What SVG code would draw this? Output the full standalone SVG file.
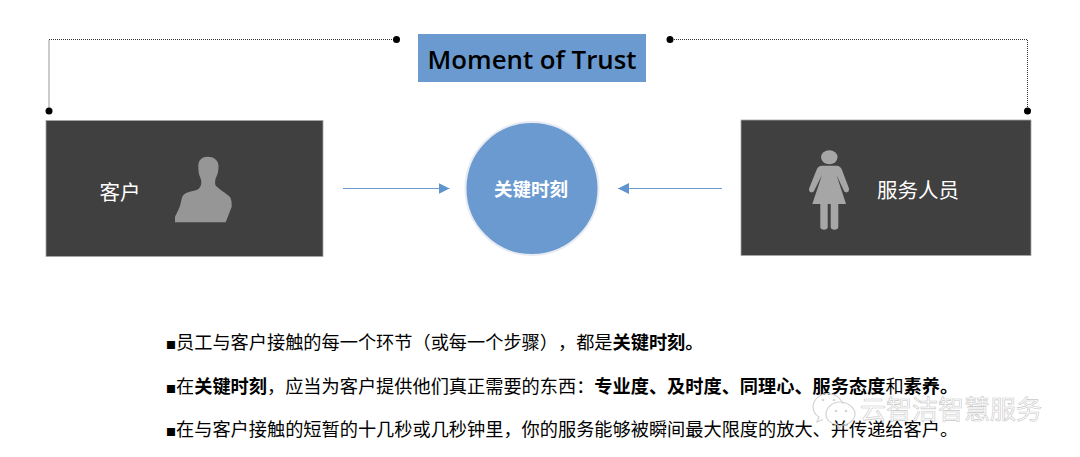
<svg xmlns="http://www.w3.org/2000/svg" width="1080" height="457" viewBox="0 0 1080 457">
<style>
.cjk{font-family:"Noto Sans CJK SC","Liberation Sans",sans-serif;text-spacing-trim:space-all;font-kerning:none}
.box{fill:#404040;stroke:#a6a6a6;stroke-width:.8}
.lead{fill:none;stroke:#333;stroke-width:1;stroke-dasharray:1 1}
.dot{fill:#000}
.arrow{fill:none;stroke:#6a9ad0;stroke-width:1.1;marker-end:url(#tri)}
.label{fill:#fff;font-size:20.5px}
.body{fill:#000;font-size:18.2px}
.body tspan.b{font-weight:700}
.wm{fill:none;stroke:#d4d4d4;stroke-width:1.2}
.eye{fill:#d4d4d4}
</style>
<defs>
<marker id="tri" markerUnits="userSpaceOnUse" markerWidth="12" markerHeight="12" refX="11" refY="6" orient="auto"><path d="M0 .5L11 6L0 11.5Z" fill="#5f94cf"/></marker>
</defs>
<rect width="1080" height="457" fill="#fff"/>
<g id="connectors">
<path class="lead" d="M49 111.500V39.500H396.500"/>
<path class="lead" d="M670 39.500H1027.500V111"/>
<circle class="dot" cx="49" cy="111" r="3.500"/>
<circle class="dot" cx="396.500" cy="39.500" r="3.500"/>
<circle class="dot" cx="670" cy="39.500" r="3.500"/>
<circle class="dot" cx="1027.500" cy="111" r="3.500"/>
<path class="arrow" d="M343 188.500H449.500"/>
<path class="arrow" d="M722 188.500H618"/>
</g>
<g id="title">
<rect x="418" y="34" width="228" height="48" fill="#6a9ad0"/>
<text x="532" y="68.500" text-anchor="middle" font-family="'Open Sans','Noto Sans',sans-serif" font-size="25.800" font-weight="600" fill="#000">Moment of Trust</text>
</g>
<g id="customer">
<rect class="box" x="46" y="120.500" width="277" height="136"/>
<text class="cjk label" x="120" y="200" text-anchor="middle">客户</text>
<path d="M207.700 156.700C213.500 156.700 218.500 160 218.500 166C218.500 170 218 174 216.500 176.500C215 179 214.800 183 215.500 185.500C219 189 226 193.500 229.500 196.500C231.500 198.500 231.800 203 231.700 206.700L225.700 222.300H175V216.700C177.500 212 179.500 208 180.500 204C181.500 200 182 196 184 194.500C188 191 196 191.500 199 188.500C201.500 186 202 182 200.500 178C198.800 175 198.300 170 198.300 166C198.300 160 202 156.700 207.700 156.700Z" fill="#969696"/>
</g>
<g id="moment">
<circle cx="532" cy="188.500" r="66.500" fill="#6a9ad0" stroke="#e8ecf2" stroke-width="2"/>
<text class="cjk" x="531" y="195.500" text-anchor="middle" font-size="18.500" font-weight="700" fill="#fff">关键时刻</text>
</g>
<g id="staff">
<rect class="box" x="741" y="120" width="290" height="135.500"/>
<ellipse cx="829.300" cy="157.300" rx="8.200" ry="7" fill="#a6a6a6"/>
<path d="M822 165.700H836.500C839.500 165.700 841 167.500 842 170L848.800 188C850 192 846 194 844 191L836.500 175L846 204H838.300V227C838.300 230.500 830.700 230.500 830.700 227V204H827.700V227C827.700 230.500 820.300 230.500 820.300 227V204H812.300L822 175L814 191C812 194 808 192 809.300 188L816.500 170C817.500 167.500 819 165.700 822 165.700Z" fill="#a6a6a6"/>
<text class="cjk label" x="918" y="198" text-anchor="middle">服务人员</text>
</g>
<g id="notes" class="cjk">
<text class="body" x="166" y="349"><tspan font-size="10">■</tspan>员工与客户接触的每一个环节（或每一个步骤），都是<tspan class="b">关键时刻。</tspan></text>
<text class="body" x="166" y="392.500"><tspan font-size="10">■</tspan>在<tspan class="b">关键时刻</tspan>，应当为客户提供他们真正需要的东西：<tspan class="b">专业度、及时度、同理心、服务态度</tspan>和<tspan class="b">素养。</tspan></text>
<text class="body" x="166" y="436"><tspan font-size="10">■</tspan>在与客户接触的短暂的十几秒或几秒钟里，你的服务能够被瞬间最大限度的放大、并传递给客户。</text>
</g>
<g id="watermark">
<path class="wm" d="M843 404C841 398 835 393.500 828 393.500C820 393.500 813 400 813 407C813 411 815 414.500 819 417L817 422L823 419.500"/>
<path class="wm" d="M840 402C848 402 855 408 855 414C855 420 849 425 842 425L839 429L838 425C831 424 826 420 826 414C826 408 832 402 840 402Z"/>
<circle class="eye" cx="823" cy="400" r="1.300"/><circle class="eye" cx="834" cy="400" r="1.300"/>
<circle class="eye" cx="836" cy="411" r="1.300"/><circle class="eye" cx="846" cy="411" r="1.300"/>
<text class="cjk" x="860" y="419" font-size="26" fill="#fff" stroke="#c8c8c8" stroke-width=".6">云智洁智慧服务</text>
</g>
</svg>
